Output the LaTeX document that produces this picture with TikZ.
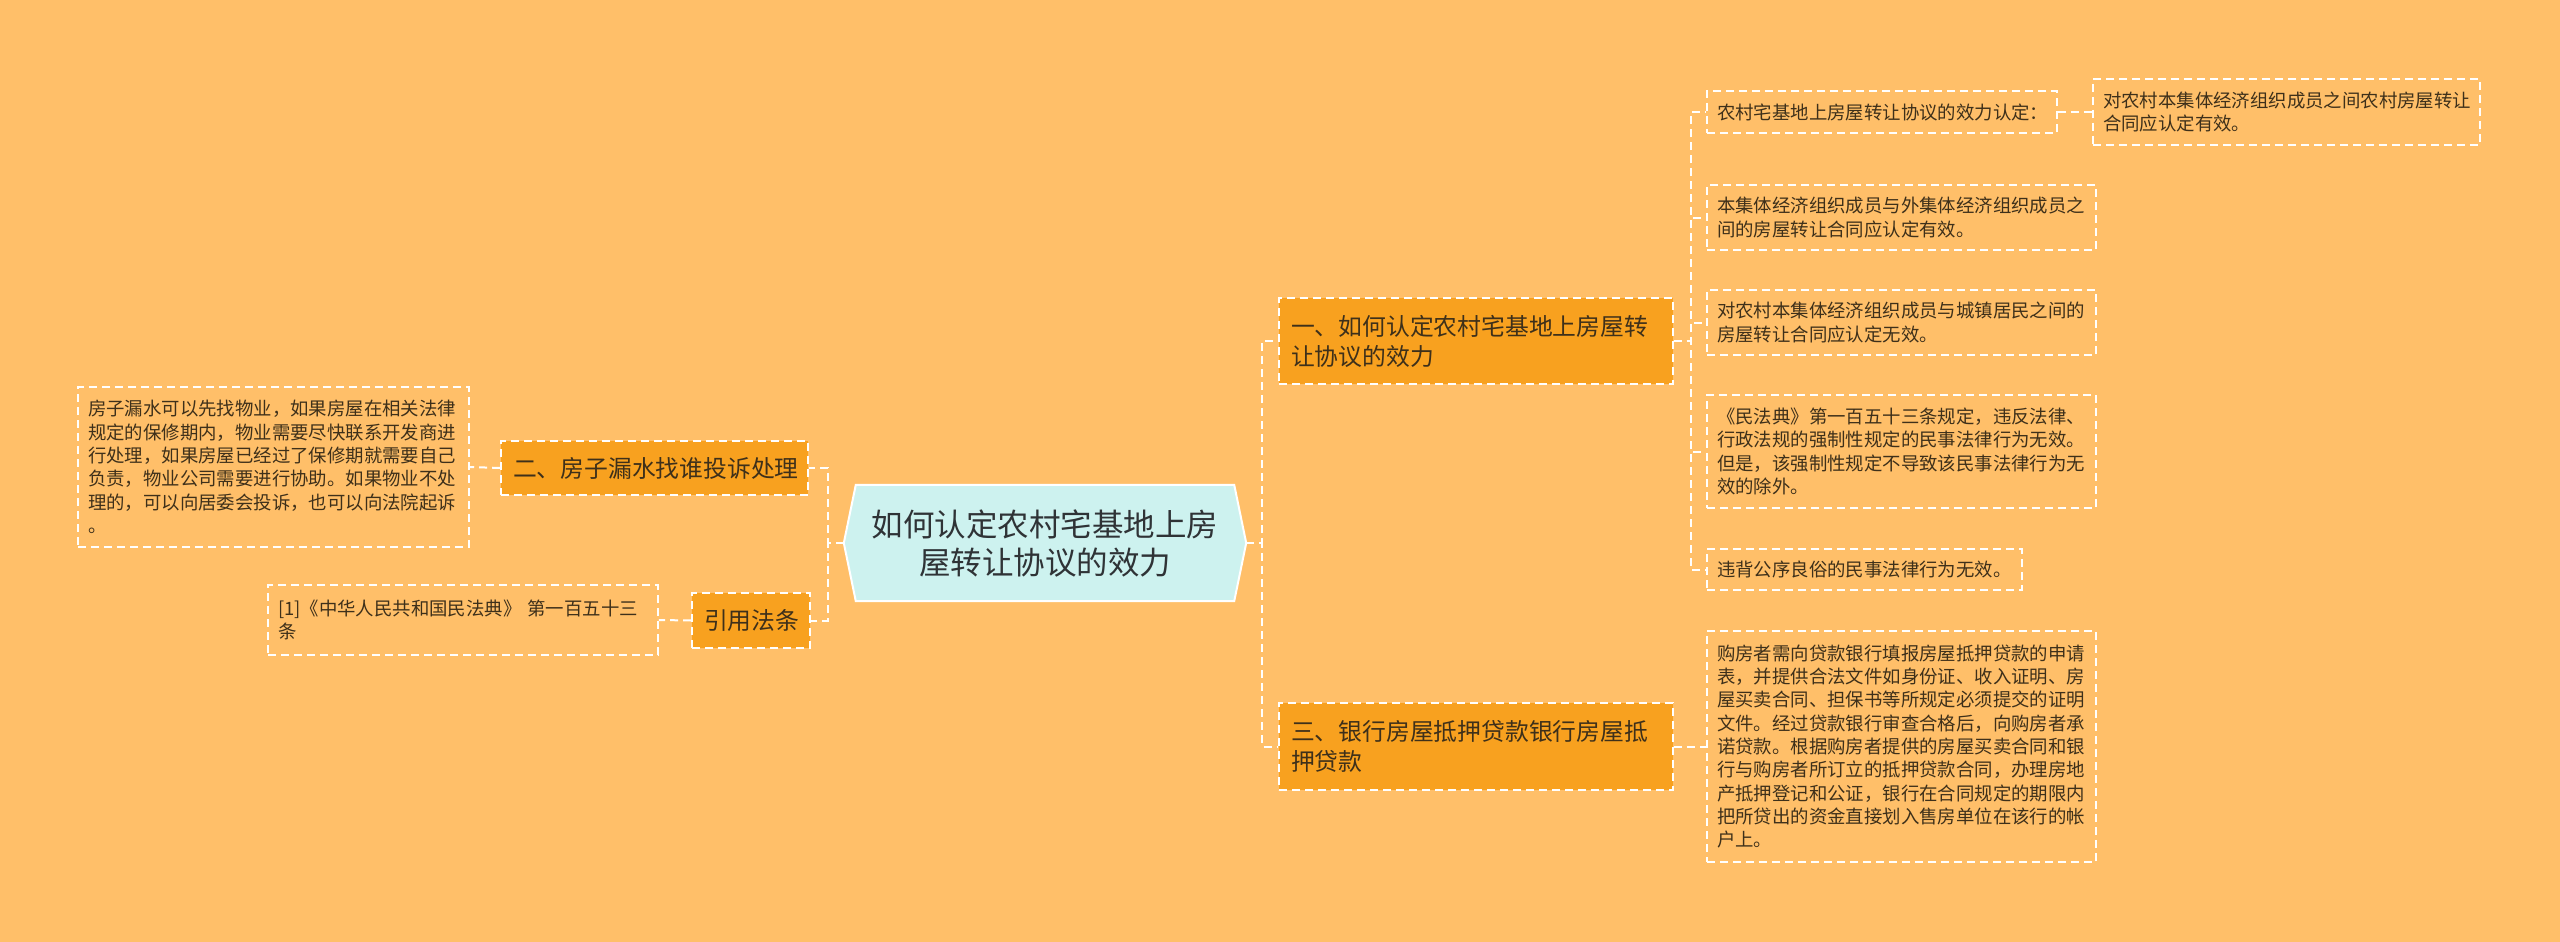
\documentclass[tikz,border=0pt]{standalone}
\usepackage{fontspec}
\newfontfamily\cjk{Noto Sans CJK SC}
\usetikzlibrary{backgrounds}
\definecolor{bgc}{HTML}{FFBF69}
\definecolor{branchfill}{HTML}{F8A11F}
\definecolor{rootfill}{HTML}{CDF2EF}
\definecolor{leaftxt}{HTML}{3E301A}
\definecolor{roottxt}{HTML}{2F3336}
\begin{document}
\begin{tikzpicture}[x=1pt,y=-1pt,
  link/.style={draw=white, line width=2pt, dash pattern=on 8pt off 5pt},
  leafbox/.style={draw=white, line width=1.6pt, dash pattern=on 8pt off 5pt,
    text=leaftxt, font={\cjk\fontsize{18.4pt}{23.3pt}\selectfont},
    align=left, inner xsep=10pt, inner ysep=2pt, anchor=center},
  branchbox/.style={draw=white, fill=branchfill, line width=1.6pt, dash pattern=on 8pt off 5pt,
    text=leaftxt, font={\cjk\fontsize{23.8pt}{30pt}\selectfont},
    align=left, inner xsep=12pt, inner ysep=2pt, anchor=center},
  rootbox/.style={text=roottxt, font={\cjk\fontsize{31.5pt}{38pt}\selectfont},
    align=center, inner sep=0pt, anchor=center}
]
\useasboundingbox (0,0) rectangle (2560,942);

% root
\node[rootbox, minimum width=402pt, minimum height=116pt] (root) at (1045,543)
  {如何认定农村宅基地上房\\屋转让协议的效力};

% left branches
\node[branchbox, text width=283pt, minimum height=54pt] (lb1) at (654.5,468) {二、房子漏水找谁投诉处理};
\node[branchbox, text width=94pt, minimum height=55pt] (lb2) at (751,620.5) {引用法条};

% left leaves
\node[leafbox, text width=371pt, minimum height=160pt] (ll1) at (273.5,467)
  {房子漏水可以先找物业，如果房屋在相关法律\\规定的保修期内，物业需要尽快联系开发商进\\行处理，如果房屋已经过了保修期就需要自己\\负责，物业公司需要进行协助。如果物业不处\\理的，可以向居委会投诉，也可以向法院起诉\\。};
\node[leafbox, text width=370pt, minimum height=70pt] (ll2) at (463,620)
  {[1]《中华人民共和国民法典》 第一百五十三\\条};

% right branches
\node[branchbox, text width=370pt, minimum height=86pt] (rb1) at (1476,341)
  {一、如何认定农村宅基地上房屋转\\让协议的效力};
\node[branchbox, text width=370pt, minimum height=87pt] (rb2) at (1476,746.5)
  {三、银行房屋抵押贷款银行房屋抵\\押贷款};

% right leaves
\node[leafbox, text width=330pt, minimum height=42pt] (la) at (1882,112)
  {农村宅基地上房屋转让协议的效力认定：};
\node[leafbox, text width=367pt, minimum height=66pt] (la2) at (2286.5,112)
  {对农村本集体经济组织成员之间农村房屋转让\\合同应认定有效。};
\node[leafbox, text width=369pt, minimum height=65pt] (lb) at (1901.5,217.5)
  {本集体经济组织成员与外集体经济组织成员之\\间的房屋转让合同应认定有效。};
\node[leafbox, text width=369pt, minimum height=65pt] (lc) at (1901.5,322.5)
  {对农村本集体经济组织成员与城镇居民之间的\\房屋转让合同应认定无效。};
\node[leafbox, text width=369pt, minimum height=113pt] (ld) at (1901.5,451.5)
  {《民法典》第一百五十三条规定，违反法律、\\行政法规的强制性规定的民事法律行为无效。\\但是，该强制性规定不导致该民事法律行为无\\效的除外。};
\node[leafbox, text width=295pt, minimum height=41pt] (le) at (1864.5,569.5)
  {违背公序良俗的民事法律行为无效。};
\node[leafbox, text width=369pt, minimum height=231pt] (lf) at (1901.5,746.5)
  {购房者需向贷款银行填报房屋抵押贷款的申请\\表，并提供合法文件如身份证、收入证明、房\\屋买卖合同、担保书等所规定必须提交的证明\\文件。经过贷款银行审查合格后，向购房者承\\诺贷款。根据购房者提供的房屋买卖合同和银\\行与购房者所订立的抵押贷款合同，办理房地\\产抵押登记和公证，银行在合同规定的期限内\\把所贷出的资金直接划入售房单位在该行的帐\\户上。};

\begin{scope}[on background layer]
  \fill[bgc] (0,0) rectangle (2560,942);
  \draw[fill=rootfill, draw=white, line width=2pt]
    (root.west) -- ([xshift=12pt]root.north west) -- ([xshift=-12pt]root.north east)
    -- (root.east) -- ([xshift=-12pt]root.south east) -- ([xshift=12pt]root.south west) -- cycle;
  % connectors
  \draw[link] (root.west) -- ++(-16,0) |- (lb1.east);
  \draw[link] (root.west) -- ++(-16,0) |- (lb2.east);
  \draw[link] (root.east) -- ++(16,0) |- (rb1.west);
  \draw[link] (root.east) -- ++(16,0) |- (rb2.west);
  \draw[link] (lb1.west) -- (ll1.east);
  \draw[link] (lb2.west) -- (ll2.east);
  \draw[link] (rb1.east) -- ++(17,0) |- (la.west);
  \draw[link] (rb1.east) -- ++(17,0) |- (lb.west);
  \draw[link] (rb1.east) -- ++(17,0) |- (lc.west);
  \draw[link] (rb1.east) -- ++(17,0) |- (ld.west);
  \draw[link] (rb1.east) -- ++(17,0) |- (le.west);
  \draw[link] (rb2.east) -- (lf.west);
  \draw[link] (la.east) -- (la2.west);
\end{scope}
\end{tikzpicture}
\end{document}
